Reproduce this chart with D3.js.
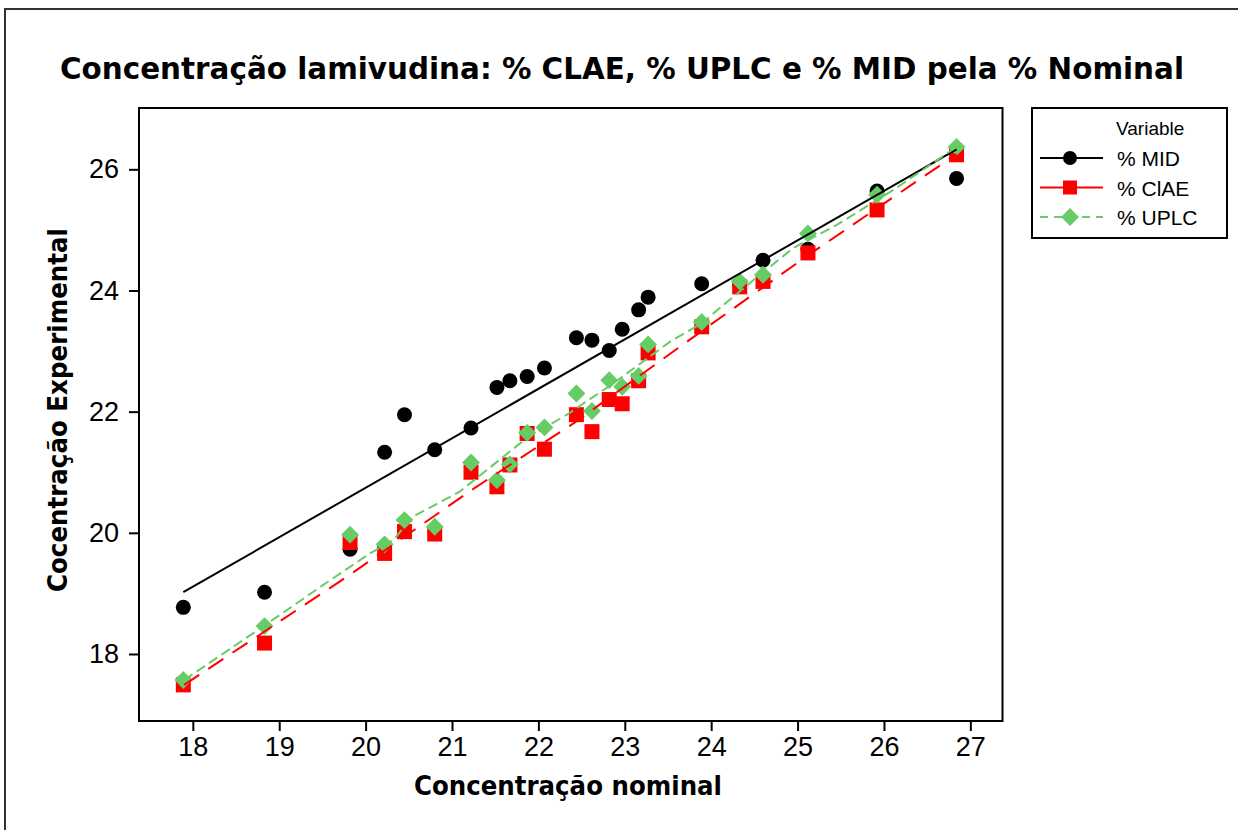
<!DOCTYPE html>
<html>
<head>
<meta charset="utf-8">
<script src="https://cdn.jsdelivr.net/npm/d3@7"></script>
<style>
  body { margin: 0; background: #fff; }
  svg { display: block; }
</style>
</head>
<body>
<div id="chart"></div>
<script>
// Values
const nominal = [17.89, 18.83, 19.82, 20.22, 20.45, 20.80, 21.22, 21.52, 21.67, 21.87, 22.07, 22.44,
  22.62, 22.82, 22.97, 23.16, 23.27, 23.89, 24.33, 24.60, 25.12, 25.92, 26.84];
const mid = [18.77, 19.02, 19.73, 21.33, 21.95, 21.37, 21.73, 22.40, 22.51, 22.58, 22.72, 23.22,
  23.18, 23.01, 23.36, 23.68, 23.89, 24.11, 24.10, 24.50, 24.68, 25.64, 25.85];
const ciae = [17.49, 18.18, 19.84, 19.66, 20.02, 19.98, 21.00, 20.76, 21.12, 21.64, 21.38, 21.95,
  21.67, 22.20, 22.13, 22.51, 22.97, 23.40, 24.06, 24.15, 24.62, 25.33, 26.24];
const uplc = [17.57, 18.46, 19.97, 19.81, 20.21, 20.10, 21.16, 20.87, 21.13, 21.65, 21.74, 22.30,
  22.01, 22.52, 22.41, 22.59, 23.11, 23.48, 24.15, 24.26, 24.94, 25.58, 26.37];

// fitted lines as drawn in the picture
const midFitX = [17.89, 26.84];
const midFit = [19.02, 26.33];
const ciaeFitX = [17.90, 19.82, 21.22, 22.44, 23.89, 25.12, 26.84];
const ciaeFit = [17.49, 19.31, 20.70, 21.84, 23.33, 24.58, 26.25];
const uplcFitX = [17.90, 18.83, 19.51, 20.05, 20.32, 20.55, 21.09, 21.30, 21.87, 22.33, 22.87,
  23.53, 23.89, 24.47, 24.95, 25.45, 26.11, 26.84];
const uplcFit = [17.57, 18.47, 19.14, 19.66, 19.88, 20.27, 20.68, 20.92, 21.57, 21.95, 22.47,
  23.16, 23.46, 24.15, 24.70, 25.08, 25.66, 26.37];

const xTicks = [18, 19, 20, 21, 22, 23, 24, 25, 26, 27];
const yTicks = [18, 20, 22, 24, 26];
const seriesNames = ['% MID', '% ClAE', '% UPLC'];

const width = 1238;
const height = 830;
const plot = { left: 139, top: 108, right: 1002.5, bottom: 721 };

const svg = d3.select('#chart').append('svg')
  .attr('width', width)
  .attr('height', height);

// outer frame
svg.append('rect')
  .attr('x', 5).attr('y', 9)
  .attr('width', 1250).attr('height', 840)
  .attr('fill', 'none')
  .attr('stroke', '#333')
  .attr('stroke-width', 2);

const x = d3.scaleLinear()
  .domain([17.377, 27.372])
  .range([plot.left, plot.right]);

const y = d3.scaleLinear()
  .domain([16.894, 27.012])
  .range([plot.bottom, plot.top]);

// title
svg.append('text')
  .attr('x', 622)
  .attr('y', 79)
  .attr('text-anchor', 'middle')
  .attr('font-family', 'DejaVu Sans, sans-serif')
  .attr('font-weight', 'bold')
  .attr('font-size', 30)
  .attr('textLength', 1124)
  .attr('lengthAdjust', 'spacingAndGlyphs')
  .text('Concentração lamivudina: % CLAE, % UPLC e % MID pela % Nominal');

// axes
const xAxis = svg.append('g')
  .attr('transform', `translate(0,${plot.bottom})`)
  .call(d3.axisBottom(x).tickValues(xTicks).tickSize(10).tickSizeOuter(0).tickPadding(6));
const yAxis = svg.append('g')
  .attr('transform', `translate(${plot.left},0)`)
  .call(d3.axisLeft(y).tickValues(yTicks).tickSize(10).tickSizeOuter(0).tickPadding(10));

[xAxis, yAxis].forEach(g => {
  g.select('.domain').remove();
  g.selectAll('.tick line').attr('stroke', '#000').attr('stroke-width', 2);
  g.selectAll('.tick text')
    .attr('fill', '#000')
    .attr('font-family', 'Liberation Sans, Arial, sans-serif')
    .attr('font-size', 27);
});

// plot frame
svg.append('rect')
  .attr('x', plot.left).attr('y', plot.top)
  .attr('width', plot.right - plot.left)
  .attr('height', plot.bottom - plot.top)
  .attr('fill', 'none')
  .attr('stroke', '#000')
  .attr('stroke-width', 2);

// axis titles
svg.append('text')
  .attr('x', 568)
  .attr('y', 795)
  .attr('text-anchor', 'middle')
  .attr('font-family', 'DejaVu Sans, sans-serif')
  .attr('font-weight', 'bold')
  .attr('font-size', 26)
  .attr('textLength', 308)
  .attr('lengthAdjust', 'spacingAndGlyphs')
  .text('Concentração nominal');

svg.append('text')
  .attr('transform', 'translate(67,410) rotate(-90)')
  .attr('text-anchor', 'middle')
  .attr('font-family', 'DejaVu Sans, sans-serif')
  .attr('font-weight', 'bold')
  .attr('font-size', 26)
  .attr('textLength', 364)
  .attr('lengthAdjust', 'spacingAndGlyphs')
  .text('Cocentração Experimental');

// markers
const diamond = d3.symbol().type(d3.symbolSquare).size(160);

svg.append('g').selectAll('circle')
  .data(nominal)
  .enter().append('circle')
  .attr('cx', d => x(d))
  .attr('cy', (d, i) => y(mid[i]))
  .attr('r', 7.5)
  .attr('fill', '#000');

svg.append('g').selectAll('rect')
  .data(nominal)
  .enter().append('rect')
  .attr('x', d => x(d) - 7.5)
  .attr('y', (d, i) => y(ciae[i]) - 7.5)
  .attr('width', 15)
  .attr('height', 15)
  .attr('fill', '#ff0000');

svg.append('g').selectAll('path')
  .data(nominal)
  .enter().append('path')
  .attr('d', diamond)
  .attr('transform', (d, i) => `translate(${x(d)},${y(uplc[i])}) rotate(45)`)
  .attr('fill', '#66cc66');

// fit lines
const line = d3.line().x(d => x(d[0])).y(d => y(d[1]));

svg.append('path')
  .datum(midFitX.map((d, i) => [d, midFit[i]]))
  .attr('d', line)
  .attr('fill', 'none')
  .attr('stroke', '#000')
  .attr('stroke-width', 2);

svg.append('path')
  .datum(ciaeFitX.map((d, i) => [d, ciaeFit[i]]))
  .attr('d', line)
  .attr('fill', 'none')
  .attr('stroke', '#ff0000')
  .attr('stroke-width', 2)
  .attr('stroke-dasharray', '18,11');

svg.append('path')
  .datum(uplcFitX.map((d, i) => [d, uplcFit[i]]))
  .attr('d', line)
  .attr('fill', 'none')
  .attr('stroke', '#66cc66')
  .attr('stroke-width', 2)
  .attr('stroke-dasharray', '10,5');

// legend
const legend = svg.append('g');
legend.append('rect')
  .attr('x', 1032).attr('y', 108)
  .attr('width', 195).attr('height', 130)
  .attr('fill', '#fff')
  .attr('stroke', '#000')
  .attr('stroke-width', 2);

legend.append('text')
  .attr('x', 1116).attr('y', 135)
  .attr('font-family', 'Liberation Sans, Arial, sans-serif')
  .attr('font-size', 19)
  .text('Variable');

const legColors = ['#000', '#ff0000', '#66cc66'];
const legDash = [null, null, '8,6'];
seriesNames.forEach((name, i) => {
  const ly = 158 + i * 29.5;
  legend.append('line')
    .attr('x1', 1040).attr('x2', 1103)
    .attr('y1', ly).attr('y2', ly)
    .attr('stroke', legColors[i])
    .attr('stroke-width', 2)
    .attr('stroke-dasharray', legDash[i]);
  if (i === 0) {
    legend.append('circle').attr('cx', 1070).attr('cy', ly).attr('r', 7).attr('fill', '#000');
  } else if (i === 1) {
    legend.append('rect').attr('x', 1063).attr('y', ly - 7).attr('width', 14).attr('height', 14)
      .attr('fill', '#ff0000');
  } else {
    legend.append('path').attr('d', diamond)
      .attr('transform', `translate(1070,${ly}) rotate(45)`)
      .attr('fill', '#66cc66');
  }
  legend.append('text')
    .attr('x', 1117).attr('y', ly + 8)
    .attr('font-family', 'Liberation Sans, Arial, sans-serif')
    .attr('font-size', 21)
    .text(name);
});
</script>
</body>
</html>
